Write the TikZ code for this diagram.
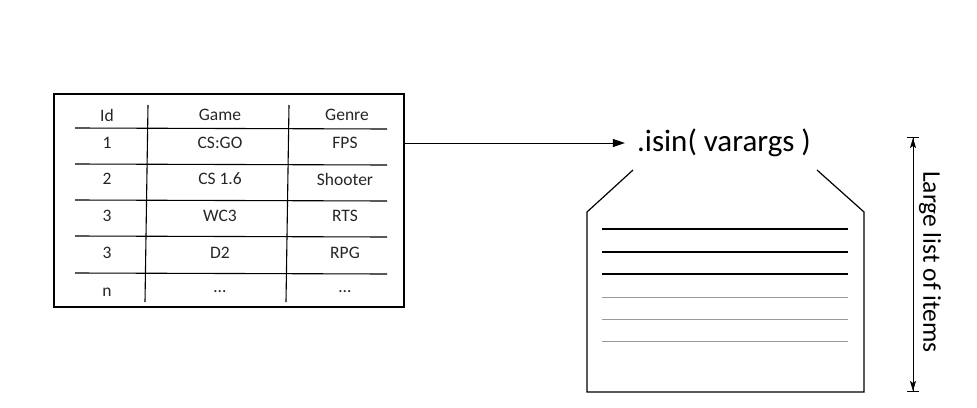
\documentclass[tikz,border=0pt]{standalone}
\usepackage{fontspec}
\setmainfont{Carlito}
\usetikzlibrary{arrows.meta,positioning}

\begin{document}
\begin{tikzpicture}[x=1pt,y=-1pt]
	\tikzstyle{cell}=[font=\fontsize{17.5}{17.5}\selectfont,text=black!85,inner sep=0pt]
	\tikzstyle{rule}=[black,line width=1.1pt]
	\tikzstyle{item}=[line width=1.3pt]
	\tikzstyle{faint}=[gray!80,line width=0.8pt]
	\useasboundingbox (0,0) rectangle (977,407);

	% table of games
	\node [draw,line width=1.1pt,minimum width=350pt,minimum height=213pt,inner sep=0pt] (table) at (229,200.5) {};
	\node [cell] (hid)    at (107,115) {Id};
	\node [cell] (hgame)  at (220,115) {Game};
	\node [cell] (hgenre) at (347,115) {Genre};
	\foreach \i/\y/\id/\game/\genre in {1/143/1/CS:GO/FPS,2/179/2/CS 1.6/Shooter,3/216/3/WC3/RTS,4/253/3/D2/RPG,5/292/n/…/…} {
		\node [cell] (id\i)    at (107,\y) {\id};
		\node [cell] (game\i)  at (220,\y) {\game};
		\node [cell] (genre\i) at (345,\y) {\genre};
	}
	\foreach \y in {128,164,200,236,273}
		\draw [rule] (75,\y) -- (387,\y+1);
	\draw [rule] (148,105) -- (145,302);
	\draw [rule] (289,105) -- (286,302);

	% the call
	\node [font=\fontsize{31}{31}\selectfont,inner sep=0pt] (isin) at (724,143) {.isin( varargs )};
	\draw [line width=1pt,-{Triangle[length=12pt,width=8pt]}] (table.east |- id1) -- ([xshift=-12pt]isin.west);

	% the container
	\draw [line width=1.2pt] (633,170) -- (587,212) -- (587,392) -- (864,392) -- (864,212) -- (817,170);
	\foreach \y in {229,252,274}
		\draw [item] (602,\y) -- (848,\y);
	\foreach \y in {297,319,341}
		\draw [faint] (602,\y) -- (848,\y);

	% size of the list
	\coordinate (top) at (913,137);
	\coordinate (bot) at (913,392);
	\draw [line width=1pt,{Bar[width=12pt]Stealth[length=10pt,width=6pt,inset=2pt]}-{Stealth[length=10pt,width=6pt,inset=2pt]Bar[width=12pt]}] (top) -- (bot);
	\node [font=\fontsize{25.5}{25.5}\selectfont,rotate=-90,inner sep=0pt] (size) at (930,262) {Large list of items};
\end{tikzpicture}
\end{document}
